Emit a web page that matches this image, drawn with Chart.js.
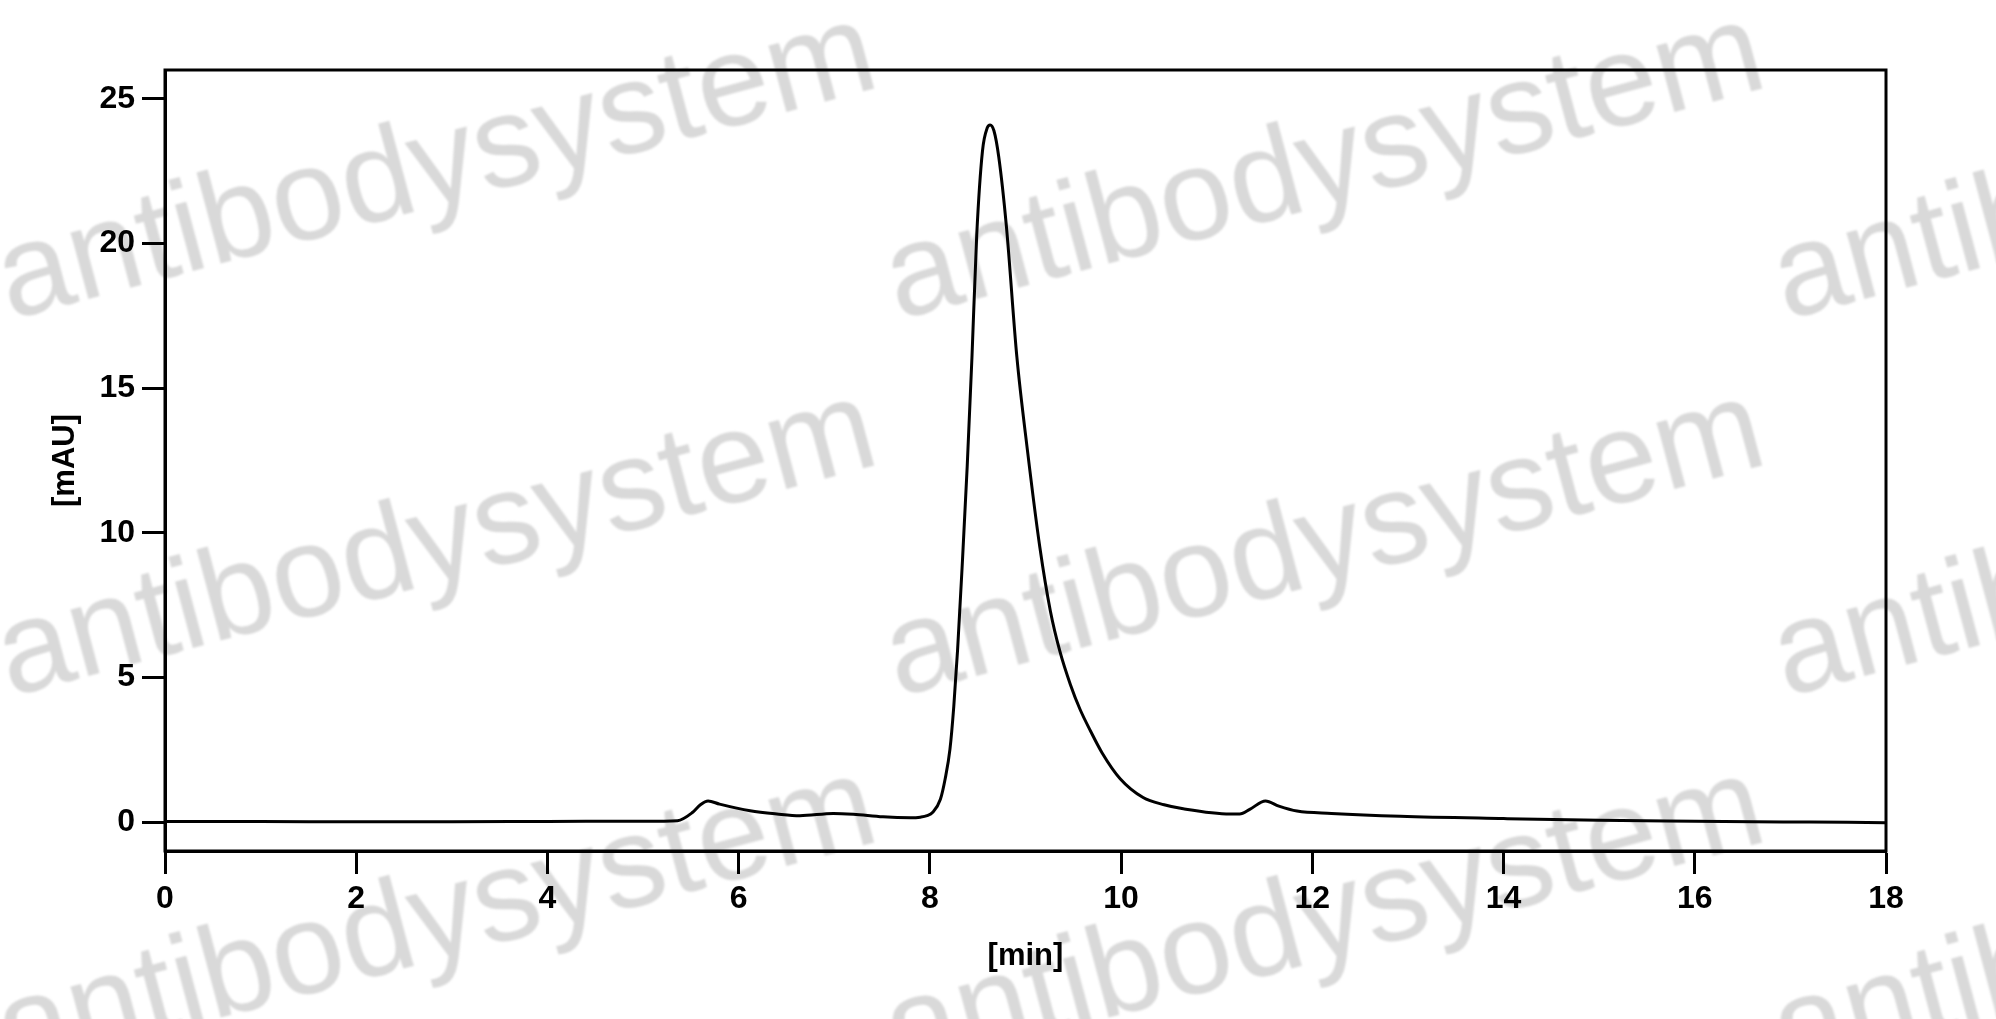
<!DOCTYPE html>
<html>
<head>
<meta charset="utf-8">
<title>Chromatogram</title>
<script src="https://cdn.jsdelivr.net/npm/chart.js@4.4.1/dist/chart.umd.min.js"></script>
<style>
    html, body { margin: 0; padding: 0; background: #fff; }
    #wrap { width: 1996px; height: 1019px; }
</style>
</head>
<body>
<div id="wrap"><canvas id="chromatogram"></canvas></div>
<script>
// retention time [min] and absorbance [mAU]
const times = [0, 1, 2, 3, 4, 5, 5.36, 5.52, 5.6, 5.68, 5.8, 6.12, 6.4, 6.64, 6.99, 7.2, 7.51, 7.8, 7.9, 7.97,
    8.03, 8.11, 8.16, 8.21, 8.25, 8.29, 8.34, 8.39, 8.44, 8.49, 8.55, 8.6, 8.63, 8.67, 8.72, 8.8, 8.91, 9.02, 9.15,
    9.26, 9.36, 9.47, 9.57, 9.68, 9.8, 9.99, 10.23, 10.45, 10.65, 11.14, 11.24, 11.35, 11.51, 11.65, 11.84, 12.2, 12.92,
    14, 15, 16, 17.2, 18];
const signal = [0.02, 0.02, 0.01, 0.01, 0.02, 0.03, 0.05, 0.34, 0.6, 0.73, 0.62, 0.39, 0.28, 0.22, 0.3, 0.27, 0.18, 0.15, 0.17, 0.22,
    0.34, 0.79, 1.5, 2.52, 4.0, 5.97, 9.0, 12.28, 16.07, 20.3, 23.2, 24.0, 24.1, 23.9, 23.0, 20.6, 16.07, 12.86, 9.5,
    7.3, 5.9, 4.75, 3.9, 3.15, 2.4, 1.5, 0.85, 0.6, 0.46, 0.28, 0.28, 0.45, 0.73, 0.55, 0.38, 0.3, 0.2,
    0.12, 0.06, 0.03, 0.0, -0.02];
const xTicks = [0, 2, 4, 6, 8, 10, 12, 14, 16, 18];
const yTicks = [0, 5, 10, 15, 20, 25];
const watermarkText = "antibodysystem";

const tickFont = { family: "'Liberation Sans', Arial, sans-serif", size: 32, weight: "bold" };
const titleFont = { family: "'Liberation Sans', Arial, sans-serif", size: 31, weight: "bold" };

const watermark = {
    id: "watermark",
    beforeDraw(chart) {
        const ctx = chart.ctx;
        ctx.save();
        ctx.fillStyle = "#fff";
        ctx.fillRect(0, 0, chart.width, chart.height);
        ctx.font = "130px 'Liberation Sans', Arial, sans-serif";
        ctx.fillStyle = "#d9d9d9";
        ctx.filter = "blur(1px)";
        ctx.textBaseline = "alphabetic";
        const cols = [10, 898, 1786];
        const rows = [320, 697, 1074];
        rows.forEach(y => {
            cols.forEach(x => {
                ctx.save();
                ctx.translate(x, y);
                ctx.rotate(-15 * Math.PI / 180);
                ctx.fillText(watermarkText, 0, 0);
                ctx.restore();
            });
        });
        ctx.restore();
    }
};

const frame = {
    id: "frame",
    afterDatasetsDraw(chart) {
        const { ctx, chartArea: a } = chart;
        ctx.save();
        ctx.strokeStyle = "#000";
        ctx.lineWidth = 3;
        ctx.strokeRect(a.left, a.top, a.right - a.left, a.bottom - a.top);
        ctx.restore();
    }
};

new Chart(document.getElementById("chromatogram"), {
    type: "line",
    data: {
        datasets: [{
            data: times.map((t, i) => ({ x: t, y: signal[i] })),
            borderColor: "#000",
            borderWidth: 3,
            pointRadius: 0,
            fill: false,
            cubicInterpolationMode: "monotone"
        }]
    },
    options: {
        responsive: true,
        maintainAspectRatio: false,
        animation: false,
        layout: { padding: { top: 70, right: 110, left: 0, bottom: 0 } },
        plugins: {
            legend: { display: false },
            tooltip: { enabled: false }
        },
        scales: {
            x: {
                type: "linear",
                min: 0,
                max: 18,
                afterBuildTicks: s => { s.ticks = xTicks.map(v => ({ value: v })); },
                afterFit: s => { s.height = 168; },
                grid: { drawOnChartArea: false, drawTicks: true, tickLength: 23, tickWidth: 3, tickColor: "#000" },
                border: { display: true, color: "#000", width: 3 },
                ticks: { color: "#000", font: tickFont, padding: 6, maxRotation: 0 },
                title: { display: true, text: "[min]", color: "#000", font: titleFont, padding: { top: 0, bottom: 44 } }
            },
            y: {
                min: -1,
                max: 26,
                afterBuildTicks: s => { s.ticks = yTicks.map(v => ({ value: v })); },
                afterFit: s => { s.width = 165; },
                grid: { drawOnChartArea: false, drawTicks: true, tickLength: 23, tickWidth: 3, tickColor: "#000" },
                border: { display: true, color: "#000", width: 3 },
                ticks: { color: "#000", font: tickFont, padding: 7 },
                title: { display: true, text: "[mAU]", color: "#000", font: titleFont, padding: { top: 47, bottom: 0 } }
            }
        }
    },
    plugins: [watermark, frame]
});
</script>
</body>
</html>
